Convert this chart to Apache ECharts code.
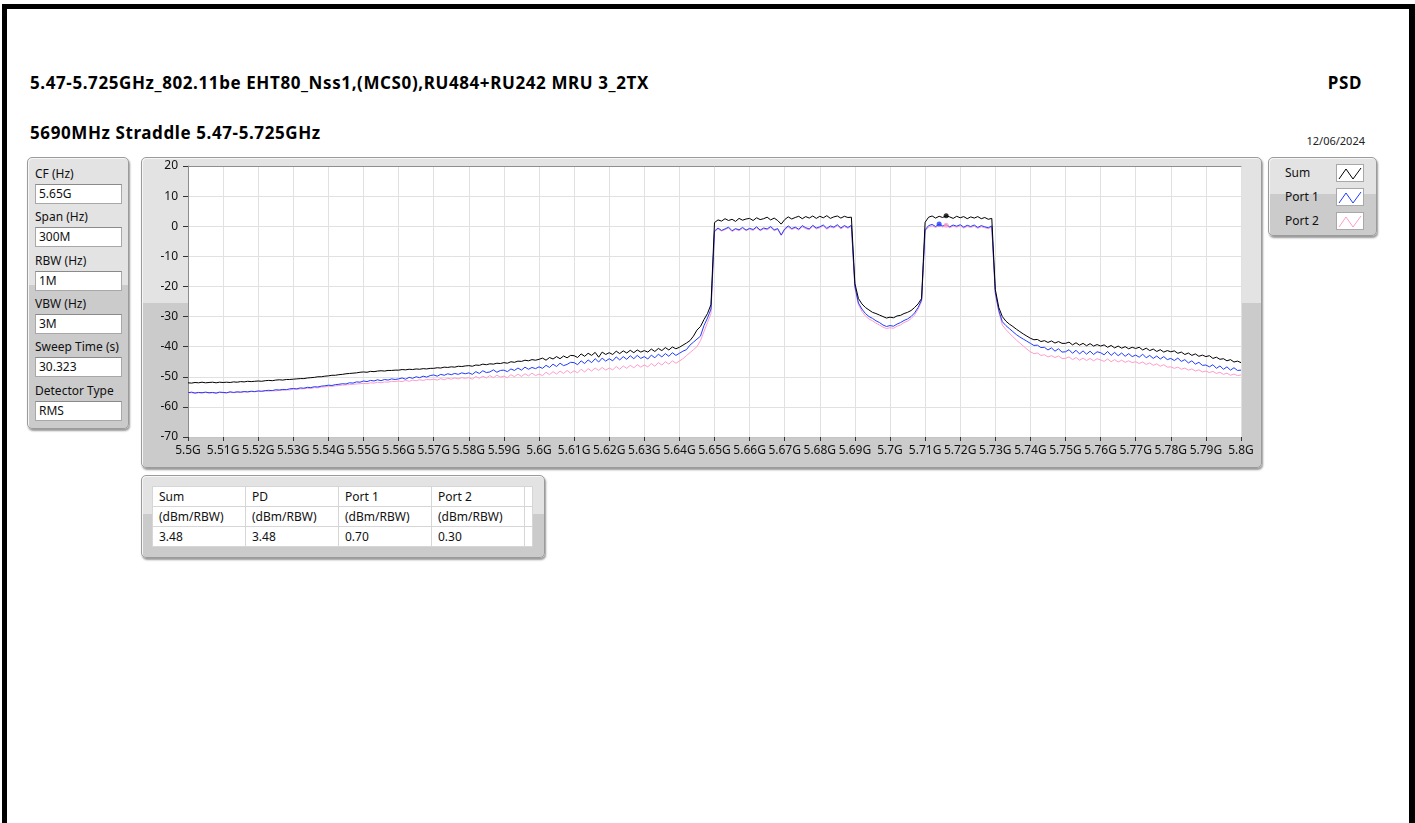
<!DOCTYPE html>
<html><head><meta charset="utf-8">
<script src="https://cdn.jsdelivr.net/npm/echarts@6/dist/echarts.min.js"></script>
<style>
html,body{margin:0;padding:0;width:1415px;height:823px;overflow:hidden;background:#fff;font-family:"Noto Sans",sans-serif;}
#frame{position:absolute;left:2px;top:4px;width:1402px;height:830px;border-top:5px solid #000;border-left:5px solid #000;border-right:6px solid #000;}
.t{position:absolute;white-space:nowrap;color:#000;line-height:1;}
.ttl{font-size:17px;font-weight:bold;letter-spacing:0.6px;}
.panel{position:absolute;box-sizing:border-box;border:1px solid #9b9b9b;border-radius:5px;background:linear-gradient(#e3e3e3 0,#e3e3e3 47%,#cbcbcb 47%,#cbcbcb 100%);box-shadow:1px 2px 2px rgba(0,0,0,.4), inset 1px 1px 0 #f6f6f6;}
.lbl{position:absolute;left:7px;font-size:12px;color:#111;line-height:14px;}
.box{position:absolute;left:7px;width:87px;height:20px;box-sizing:border-box;background:#fff;border:1px solid #a8a8a8;border-top-color:#8a8a8a;font-size:12px;line-height:18px;padding-left:3px;color:#111;}
.lgt{position:absolute;left:16px;font-size:12px;color:#111;line-height:14px;}
.sw{position:absolute;left:67px;width:28px;height:18px;box-sizing:border-box;background:#fff;border:1px solid #a8a8a8;}
table{position:absolute;left:10px;top:10px;border-collapse:collapse;background:#fff;font-size:12px;color:#111;}
td{border:1px solid #d6d6d6;padding:0 0 0 6px;height:19px;line-height:19px;box-sizing:border-box;}
#chart{position:absolute;left:0;top:0;width:1415px;height:823px;z-index:5;}
</style></head>
<body>
<div id="frame"></div>
<div class="t ttl" style="left:30px;top:74px;">5.47-5.725GHz_802.11be EHT80_Nss1,(MCS0),RU484+RU242 MRU 3_2TX</div>
<div class="t ttl" style="left:30px;top:124px;">5690MHz Straddle 5.47-5.725GHz</div>
<div class="t ttl" style="right:53px;top:74px;">PSD</div>
<div class="t" style="right:50px;top:135px;font-size:11px;color:#222;">12/06/2024</div>

<div class="panel" id="settings" style="left:27px;top:157px;width:102px;height:272px;"></div>
<div class="panel" style="left:141px;top:157px;width:1121px;height:311px;"></div>
<div class="panel" id="legend" style="left:1268px;top:157px;width:109px;height:79px;"></div>
<div class="panel" id="tablePanel" style="left:141px;top:475px;width:404px;height:83px;"></div>
<div id="chart"></div>
<script>
// ---- settings panel ----
const settingLabels = ['CF (Hz)','Span (Hz)','RBW (Hz)','VBW (Hz)','Sweep Time (s)','Detector Type'];
const settingValues = ['5.65G','300M','1M','3M','30.323','RMS'];
// ---- legend ----
const seriesNames = ['Sum','Port 1','Port 2'];
const seriesColors = ['#000000','#1f3cff','#ff9ccb'];
// ---- result table ----
const tableHeaders = ['Sum','PD','Port 1','Port 2'];
const tableUnits = ['(dBm/RBW)','(dBm/RBW)','(dBm/RBW)','(dBm/RBW)'];
const tableValues = ['3.48','3.48','0.70','0.30'];
// ---- peak markers ----
const markerFreqMHz = [5716, 5714, 5716];
const markerDbm = [3.48, 0.70, 0.30];
// ---- axes ----
const xTickLabels = ['5.5G','5.51G','5.52G','5.53G','5.54G','5.55G','5.56G','5.57G','5.58G','5.59G','5.6G','5.61G','5.62G','5.63G','5.64G','5.65G','5.66G','5.67G','5.68G','5.69G','5.7G','5.71G','5.72G','5.73G','5.74G','5.75G','5.76G','5.77G','5.78G','5.79G','5.8G'];
const xMinMHz = 5500, xMaxMHz = 5800, xStepMHz = 10;
const yMin = -70, yMax = 20, yStep = 10;
// ---- sweep grid (start / step of trace points, MHz) ----
const sweepStartMHz = 5500, sweepStepMHz = 1;
// ---- traces (dBm/RBW), one value per MHz from 5500 to 5800 ----
const sumDbm = [
-52.0,-52.1,-51.9,-52.0,-51.8,-52.0,-51.9,-51.8,-52.0,-51.8,
-51.9,-51.8,-51.9,-51.7,-51.8,-51.6,-51.7,-51.5,-51.6,-51.5,
-51.4,-51.5,-51.3,-51.2,-51.3,-51.1,-51.0,-51.1,-50.9,-50.9,
-50.8,-50.7,-50.6,-50.6,-50.4,-50.3,-50.2,-50.0,-50.0,-49.8,
-49.7,-49.5,-49.5,-49.3,-49.2,-49.0,-48.9,-48.8,-48.7,-48.5,
-48.4,-48.5,-48.2,-48.3,-48.1,-48.0,-48.1,-47.9,-47.9,-47.8,
-47.8,-47.6,-47.7,-47.5,-47.6,-47.4,-47.5,-47.3,-47.4,-47.2,
-47.2,-47.0,-47.1,-46.8,-46.9,-46.7,-46.8,-46.5,-46.6,-46.4,
-46.3,-46.5,-46.1,-46.2,-45.8,-46.0,-45.7,-45.8,-45.5,-45.6,
-45.3,-45.5,-45.0,-45.2,-44.8,-44.9,-44.5,-44.7,-44.3,-44.5,
-44.2,-43.8,-44.5,-43.6,-44.1,-43.3,-44.0,-43.1,-43.7,-42.9,
-43.0,-43.6,-42.4,-43.2,-42.2,-42.9,-41.9,-43.5,-41.8,-42.6,
-42.0,-42.6,-41.5,-42.3,-41.4,-42.1,-41.2,-42.0,-41.1,-41.8,
-41.3,-41.8,-40.8,-41.6,-40.6,-41.3,-40.3,-41.1,-40.1,-40.7,
-40.2,-39.5,-38.8,-38.0,-36.5,-34.5,-33.3,-31.0,-29.0,-26.0,
1.2,2.1,1.7,2.5,1.9,2.3,1.6,2.6,2.0,2.4,
2.6,1.9,2.8,2.2,2.5,3.0,2.1,2.7,1.9,0.7,
2.2,3.1,2.4,2.9,3.3,2.5,3.2,2.7,3.4,2.6,
3.3,2.8,3.5,2.6,3.1,3.4,2.7,3.3,2.9,3.0,
-19.0,-24.0,-25.8,-27.0,-27.8,-28.6,-29.0,-29.5,-30.0,-30.5,
-30.2,-30.4,-29.8,-29.6,-29.0,-28.6,-28.0,-27.0,-25.8,-24.0,
1.3,3.0,3.4,2.7,3.3,2.9,3.48,3.1,2.6,3.3,
2.8,3.2,2.5,3.1,2.7,3.2,2.5,2.9,2.3,2.6,
-21.0,-27.0,-30.0,-31.5,-32.5,-33.3,-34.2,-35.0,-35.8,-36.5,
-37.2,-37.7,-37.6,-38.3,-38.0,-38.6,-38.1,-38.8,-38.3,-38.9,
-38.9,-38.5,-39.4,-38.7,-39.5,-38.9,-39.7,-39.0,-39.8,-39.3,
-39.8,-39.4,-40.2,-39.6,-40.4,-39.8,-40.5,-40.0,-40.7,-40.2,
-40.6,-40.2,-41.1,-40.5,-41.3,-40.8,-41.6,-41.0,-41.8,-41.3,
-41.7,-41.4,-42.2,-41.8,-42.6,-42.1,-42.9,-42.4,-43.2,-42.8,
-43.3,-43.0,-43.9,-43.5,-44.2,-44.0,-44.7,-44.3,-45.1,-44.8,
-45.3];
const port1Dbm = [
-55.3,-55.1,-55.4,-55.2,-55.3,-55.1,-55.3,-55.2,-55.4,-55.1,
-55.2,-55.3,-55.0,-55.2,-55.0,-55.1,-54.9,-55.0,-54.8,-54.9,
-54.7,-54.8,-54.6,-54.5,-54.6,-54.3,-54.4,-54.2,-54.3,-54.0,
-53.9,-54.0,-53.7,-53.8,-53.5,-53.6,-53.3,-53.4,-53.1,-53.0,
-52.8,-52.9,-52.6,-52.5,-52.3,-52.4,-52.0,-52.1,-51.7,-51.8,
-51.4,-51.6,-51.2,-51.4,-51.0,-51.3,-50.9,-51.1,-50.7,-50.9,
-50.7,-50.4,-50.8,-50.2,-50.5,-50.0,-50.3,-49.8,-50.1,-49.6,
-49.4,-49.8,-49.2,-49.5,-49.0,-49.3,-48.9,-49.2,-48.7,-49.0,
-48.7,-49.2,-48.3,-48.9,-48.0,-48.6,-48.4,-47.7,-48.5,-47.9,
-47.8,-48.3,-47.4,-47.9,-47.1,-47.8,-46.8,-47.5,-46.9,-47.3,
-46.7,-47.2,-46.2,-46.9,-45.8,-46.6,-45.5,-46.3,-45.9,-45.2,
-45.3,-46.0,-44.7,-45.6,-44.4,-45.3,-44.0,-45.1,-43.8,-44.8,
-44.0,-44.7,-43.4,-44.4,-43.3,-44.2,-43.0,-44.0,-42.9,-43.9,
-43.3,-44.1,-42.8,-43.7,-42.5,-43.4,-42.3,-43.2,-42.0,-42.9,
-42.2,-41.5,-41.0,-39.5,-38.5,-37.5,-36.5,-33.0,-30.5,-27.5,
-1.6,-0.6,-1.4,-0.9,-0.3,-1.5,-0.8,-1.2,-0.4,-1.3,
-0.7,-1.1,-0.2,-1.3,-0.6,-0.9,-0.1,-1.2,-0.8,-2.9,
-0.9,0.1,-0.8,-0.3,-1.0,0.2,-0.5,-0.9,0.3,-0.6,
-0.2,0.4,-0.7,0.1,-0.3,0.5,-0.6,0.2,-0.4,0.3,
-20.0,-25.5,-27.5,-29.0,-30.0,-30.6,-31.4,-32.0,-32.8,-33.3,
-33.0,-33.2,-32.5,-32.0,-31.3,-30.8,-30.0,-28.8,-27.0,-24.5,
-1.2,0.2,0.6,-0.1,0.70,0.1,0.5,-0.2,0.4,0.0,
0.5,-0.3,0.3,-0.1,0.4,-0.4,0.2,-0.2,-0.5,0.1,
-22.0,-28.0,-31.7,-33.0,-34.0,-35.0,-36.0,-36.8,-37.5,-38.2,
-38.9,-39.6,-39.5,-40.3,-40.2,-41.1,-40.4,-41.5,-40.7,-41.8,
-41.7,-41.0,-42.2,-41.2,-42.4,-41.4,-42.5,-41.5,-42.6,-41.7,
-42.0,-42.7,-41.6,-42.9,-41.9,-43.0,-42.1,-43.2,-42.3,-43.3,
-42.8,-43.5,-42.5,-43.7,-42.9,-43.9,-43.1,-44.1,-43.3,-44.3,
-43.9,-44.6,-43.8,-44.9,-44.3,-45.4,-44.7,-45.8,-45.2,-46.2,
-46.1,-46.7,-46.0,-47.2,-46.4,-47.5,-46.7,-47.8,-47.0,-47.9,
-47.8];
const port2Dbm = [
-55.4,-55.3,-55.5,-55.3,-55.4,-55.2,-55.4,-55.3,-55.5,-55.2,
-55.3,-55.4,-55.1,-55.3,-55.1,-55.2,-55.0,-55.1,-54.9,-55.0,
-54.8,-54.9,-54.7,-54.8,-54.6,-54.7,-54.5,-54.5,-54.3,-54.4,
-54.1,-54.2,-54.0,-54.0,-53.8,-53.9,-53.6,-53.7,-53.4,-53.4,
-53.1,-53.2,-53.0,-52.9,-52.8,-52.7,-52.6,-52.5,-52.4,-52.3,
-52.2,-52.3,-52.0,-52.1,-51.8,-52.0,-51.7,-51.8,-51.5,-51.6,
-51.4,-51.6,-51.2,-51.5,-51.1,-51.3,-51.0,-51.2,-50.9,-51.0,
-50.8,-51.1,-50.6,-51.0,-50.5,-50.8,-50.4,-50.7,-50.3,-50.5,
-50.3,-50.8,-49.9,-50.5,-49.8,-50.4,-49.6,-50.3,-49.5,-50.1,
-49.8,-50.3,-49.3,-50.0,-49.1,-49.9,-49.0,-49.7,-48.8,-49.6,
-49.1,-49.6,-48.5,-49.3,-48.3,-49.1,-48.1,-48.9,-47.9,-48.8,
-48.0,-48.7,-47.5,-48.4,-47.3,-48.1,-47.1,-47.9,-46.9,-47.8,
-47.1,-47.7,-46.6,-47.5,-46.4,-47.2,-46.2,-47.0,-46.0,-46.8,
-46.1,-46.7,-45.6,-46.5,-45.3,-46.1,-45.0,-45.8,-44.7,-45.5,
-44.8,-44.0,-43.0,-42.0,-41.0,-40.0,-38.0,-35.0,-32.0,-29.0,
-1.9,-0.9,-1.6,-1.1,-0.6,-1.8,-1.0,-1.5,-0.7,-1.4,
-1.0,-1.4,-0.5,-1.5,-0.9,-1.2,-0.4,-1.5,-1.0,-3.1,
-1.2,-0.3,-1.1,-0.6,-1.3,-0.2,-0.8,-1.2,0.0,-0.9,
-0.5,0.1,-1.0,-0.3,-0.6,0.2,-0.9,-0.1,-0.7,0.0,
-20.5,-26.0,-28.3,-29.8,-30.8,-31.4,-32.2,-32.8,-33.5,-34.0,
-33.7,-33.9,-33.2,-32.8,-32.0,-31.5,-30.7,-29.5,-27.6,-25.0,
-1.6,-0.3,0.1,-0.4,0.2,-0.3,0.30,-0.5,0.0,-0.3,
0.1,-0.6,-0.1,-0.4,0.0,-0.7,-0.2,-0.5,-0.8,-0.3,
-22.5,-28.5,-32.8,-34.3,-35.5,-36.7,-37.8,-38.8,-39.8,-40.8,
-41.7,-42.3,-42.1,-42.9,-42.7,-43.4,-43.0,-43.6,-43.1,-43.9,
-43.9,-43.4,-44.3,-43.6,-44.5,-43.8,-44.6,-43.9,-44.7,-44.0,
-44.4,-44.9,-44.1,-45.0,-44.3,-45.1,-44.5,-45.2,-44.7,-45.3,
-45.0,-45.6,-45.1,-45.9,-45.4,-46.2,-45.7,-46.5,-46.0,-46.8,
-46.7,-47.2,-46.8,-47.5,-47.1,-47.8,-47.4,-48.1,-47.7,-48.4,
-48.1,-48.6,-48.2,-48.9,-48.5,-49.2,-48.8,-49.5,-49.1,-49.6,
-49.4];

// ---- build HTML panels ----
(function(){
  const sp = document.getElementById('settings');
  settingLabels.forEach((l,i)=>{
    const y = 9 + i*43.3;
    const a = document.createElement('div'); a.className='lbl'; a.style.top = y+'px'; a.textContent = l; sp.appendChild(a);
    const b = document.createElement('div'); b.className='box'; b.style.top = (y+17)+'px'; b.textContent = settingValues[i]; sp.appendChild(b);
  });
  const lp = document.getElementById('legend');
  seriesNames.forEach((n,i)=>{
    const y = 6 + i*24;
    const a = document.createElement('div'); a.className='lgt'; a.style.top=(y+2)+'px'; a.textContent=n; lp.appendChild(a);
    const s = document.createElement('div'); s.className='sw'; s.style.top=y+'px';
    s.innerHTML = '<svg width="26" height="16" style="display:block"><polyline points="2,14 9,4 16,14 24,3" fill="none" stroke="'+seriesColors[i]+'" stroke-width="1"/></svg>';
    lp.appendChild(s);
  });
  const tp = document.getElementById('tablePanel');
  const widths = [93,93,93,93,8];
  let h = '<table><colgroup>'+widths.map(w=>'<col style="width:'+w+'px">').join('')+'</colgroup>';
  [tableHeaders, tableUnits, tableValues].forEach(r=>{ h += '<tr>'+r.map(c=>'<td>'+c+'</td>').join('')+'<td></td></tr>'; });
  h += '</table>';
  tp.innerHTML = h;
})();

// ---- chart ----
const freqMHz = sumDbm.map((_, i) => sweepStartMHz + i*sweepStepMHz);
const pair = arr => arr.map((v,i)=>[freqMHz[i], v]);
const chart = echarts.init(document.getElementById('chart'), null, {renderer:'canvas'});
const labelFont = {fontFamily:'Noto Sans', fontSize:12, color:'#111'};
chart.setOption({
  animation:false,
  backgroundColor:'transparent',
  grid:{left:188, top:166, width:1053, height:271, show:true, backgroundColor:'#ffffff', borderWidth:0},
  xAxis:[{
    type:'value', min:xMinMHz, max:xMaxMHz, interval:xStepMHz,
    axisLine:{show:true, onZero:false, lineStyle:{color:'#c4c4c4', width:1}},
    axisTick:{show:true, length:4, lineStyle:{color:'#333'}},
    axisLabel:Object.assign({margin:8, showMinLabel:true, showMaxLabel:true, hideOverlap:false,
      formatter:v=>xTickLabels[Math.round((v-xMinMHz)/xStepMHz)]}, labelFont),
    splitLine:{show:true, lineStyle:{color:'#e1e1e1', width:1}}
  },{
    type:'value', position:'top', min:xMinMHz, max:xMaxMHz,
    axisLine:{show:true, onZero:false, lineStyle:{color:'#8e8e8e', width:1}},
    axisTick:{show:false}, axisLabel:{show:false}, splitLine:{show:false}
  }],
  yAxis:{
    type:'value', min:yMin, max:yMax, interval:yStep,
    axisLine:{show:true, onZero:false, lineStyle:{color:'#8e8e8e', width:1}},
    axisTick:{show:true, length:5, lineStyle:{color:'#333'}},
    axisLabel:Object.assign({margin:10}, labelFont),
    splitLine:{show:true, lineStyle:{color:'#e1e1e1', width:1}}
  },
  series:[
    {name:seriesNames[2], type:'line', data:pair(port2Dbm), showSymbol:false, lineStyle:{color:seriesColors[2], width:1}, itemStyle:{color:seriesColors[2]}},
    {name:seriesNames[1], type:'line', data:pair(port1Dbm), showSymbol:false, lineStyle:{color:seriesColors[1], width:1}, itemStyle:{color:seriesColors[1]}},
    {name:seriesNames[0], type:'line', data:pair(sumDbm), showSymbol:false, lineStyle:{color:seriesColors[0], width:1}, itemStyle:{color:seriesColors[0]}},
    {name:'markers', type:'scatter', symbolSize:5, z:5,
     data:markerFreqMHz.map((f,i)=>({value:[f, markerDbm[i]], itemStyle:{color:seriesColors[i]}}))}
  ]
});
</script>
</body></html>
